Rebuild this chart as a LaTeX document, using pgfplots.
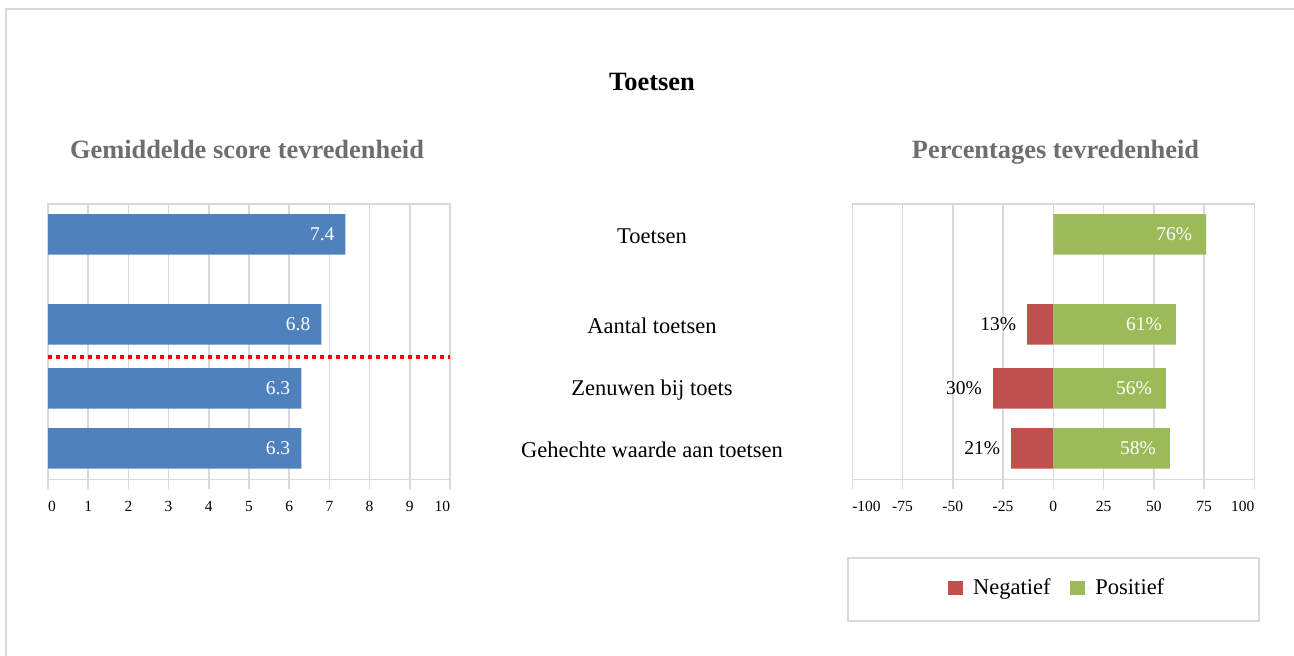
\documentclass[border=0pt]{standalone}
\usepackage{fontspec}
\setmainfont{Liberation Serif}
\usepackage{pgfplots}
\pgfplotsset{compat=1.18}
\definecolor{cblue}{HTML}{4F81BD}
\definecolor{cred}{HTML}{C0504D}
\definecolor{cgreen}{HTML}{9BBB59}
\definecolor{cgrid}{HTML}{D9D9D9}
\definecolor{csub}{HTML}{6E6E6E}
\pgfplotsset{
  myaxis/.style={
    scale only axis, anchor=south west,
    ymin=0, ymax=275.3,
    xmajorgrids, grid style={cgrid, line width=0.75pt},
    axis line style={cgrid, line width=0.75pt},
    xtick align=outside, xtick pos=bottom,
    xtick style={cgrid, line width=0.75pt}, major tick length=5pt,
    ytick style={draw=none},
    xticklabel style={font=\fontsize{7.75}{9}\selectfont, text=black, yshift=-2.5pt},
    /pgf/number format/assume math mode=true,
    clip=false,
  },
}
\begin{document}
\begin{tikzpicture}[x=1pt,y=1pt]
\path[use as bounding box] (0,0) rectangle (647,327.5);
\draw[cgrid, line width=1pt] (3,-2) -- (3,323) -- (650,323);
\node[font=\fontsize{13.2}{15}\selectfont\bfseries, anchor=base] at (326,282.15) {Toetsen};
\node[font=\fontsize{13.2}{15}\selectfont\bfseries, text=csub, anchor=base] at (123.5,248.35) {Gemiddelde score tevredenheid};
\node[font=\fontsize{13.2}{15}\selectfont\bfseries, text=csub, anchor=base] at (527.75,248.35) {Percentages tevredenheid};
\draw[cgrid, line width=0.75pt] (424,17) rectangle (629.5,48.5);

\begin{axis}[myaxis,
  at={(24pt,87.85pt)}, width=201pt, height=137.65pt,
  xmin=0, xmax=10, xtick={0,1,...,10}, ytick=\empty,
  xticklabels={\rlap{0},1,2,3,4,5,6,7,8,9,\llap{10}},
]
\addplot[xbar, bar width=40.6, fill=cblue, draw=none,
  nodes near coords={\pgfmathprintnumber[fixed,fixed zerofill,precision=1]{\pgfplotspointmeta}},
  point meta=x,
  nodes near coords style={anchor=east, text=white, xshift=-2pt, font=\fontsize{9.75}{11}\selectfont}]
  coordinates {(7.4,245) (6.8,155) (6.3,91) (6.3,31)};
\addplot[color=red, line width=2pt, dash pattern=on 2pt off 2pt, mark=none, forget plot]
  coordinates {(0,122.6) (10,122.6)};
\end{axis}

\begin{axis}[myaxis,
  at={(426.15pt,87.85pt)}, width=201pt, height=137.65pt,
  xmin=-100, xmax=100, xtick={-100,-75,...,100},
  xticklabels={\rlap{-100},-75,-50,-25,0,25,50,75,\llap{100}},
  ytick={31,91,155,245},
  yticklabels={Gehechte waarde aan toetsen, Zenuwen bij toets, Aantal toetsen, Toetsen},
  yticklabel style={anchor=center, xshift=-100.15pt, yshift=-0.75pt, font=\fontsize{11.25}{13}\selectfont},
  legend style={draw=none, fill=none, at={(0.512,-0.395)}, anchor=center,
    legend columns=2, font=\fontsize{11.25}{13}\selectfont,
    /tikz/every even column/.append style={column sep=8pt}},
  legend cell align=left,
]
\addplot[xbar, bar shift=0pt, bar width=40.6, fill=cred, draw=none,
  point meta=explicit,
  nodes near coords={\pgfmathprintnumber{\pgfplotspointmeta}\%},
  nodes near coords style={anchor=east, text=black, xshift=-2pt, font=\fontsize{9.75}{11}\selectfont},
  legend image code/.code={\fill[cred] (0pt,-3.5pt) rectangle (7.5pt,3.5pt); \path (7.5pt,0pt) -- (10.5pt,0pt);}]
  coordinates {(-13,155) [13] (-30,91) [30] (-21,31) [21]};
\addlegendentry{Negatief}
\addplot[xbar, bar shift=0pt, bar width=40.6, fill=cgreen, draw=none,
  point meta=x,
  nodes near coords={\pgfmathprintnumber{\pgfplotspointmeta}\%},
  nodes near coords style={anchor=east, text=white, xshift=-3.5pt, font=\fontsize{9.75}{11}\selectfont},
  legend image code/.code={\fill[cgreen] (0pt,-3.5pt) rectangle (7.5pt,3.5pt); \path (7.5pt,0pt) -- (10.5pt,0pt);}]
  coordinates {(76,245) (61,155) (56,91) (58,31)};
\addlegendentry{Positief}
\end{axis}
\end{tikzpicture}
\end{document}
